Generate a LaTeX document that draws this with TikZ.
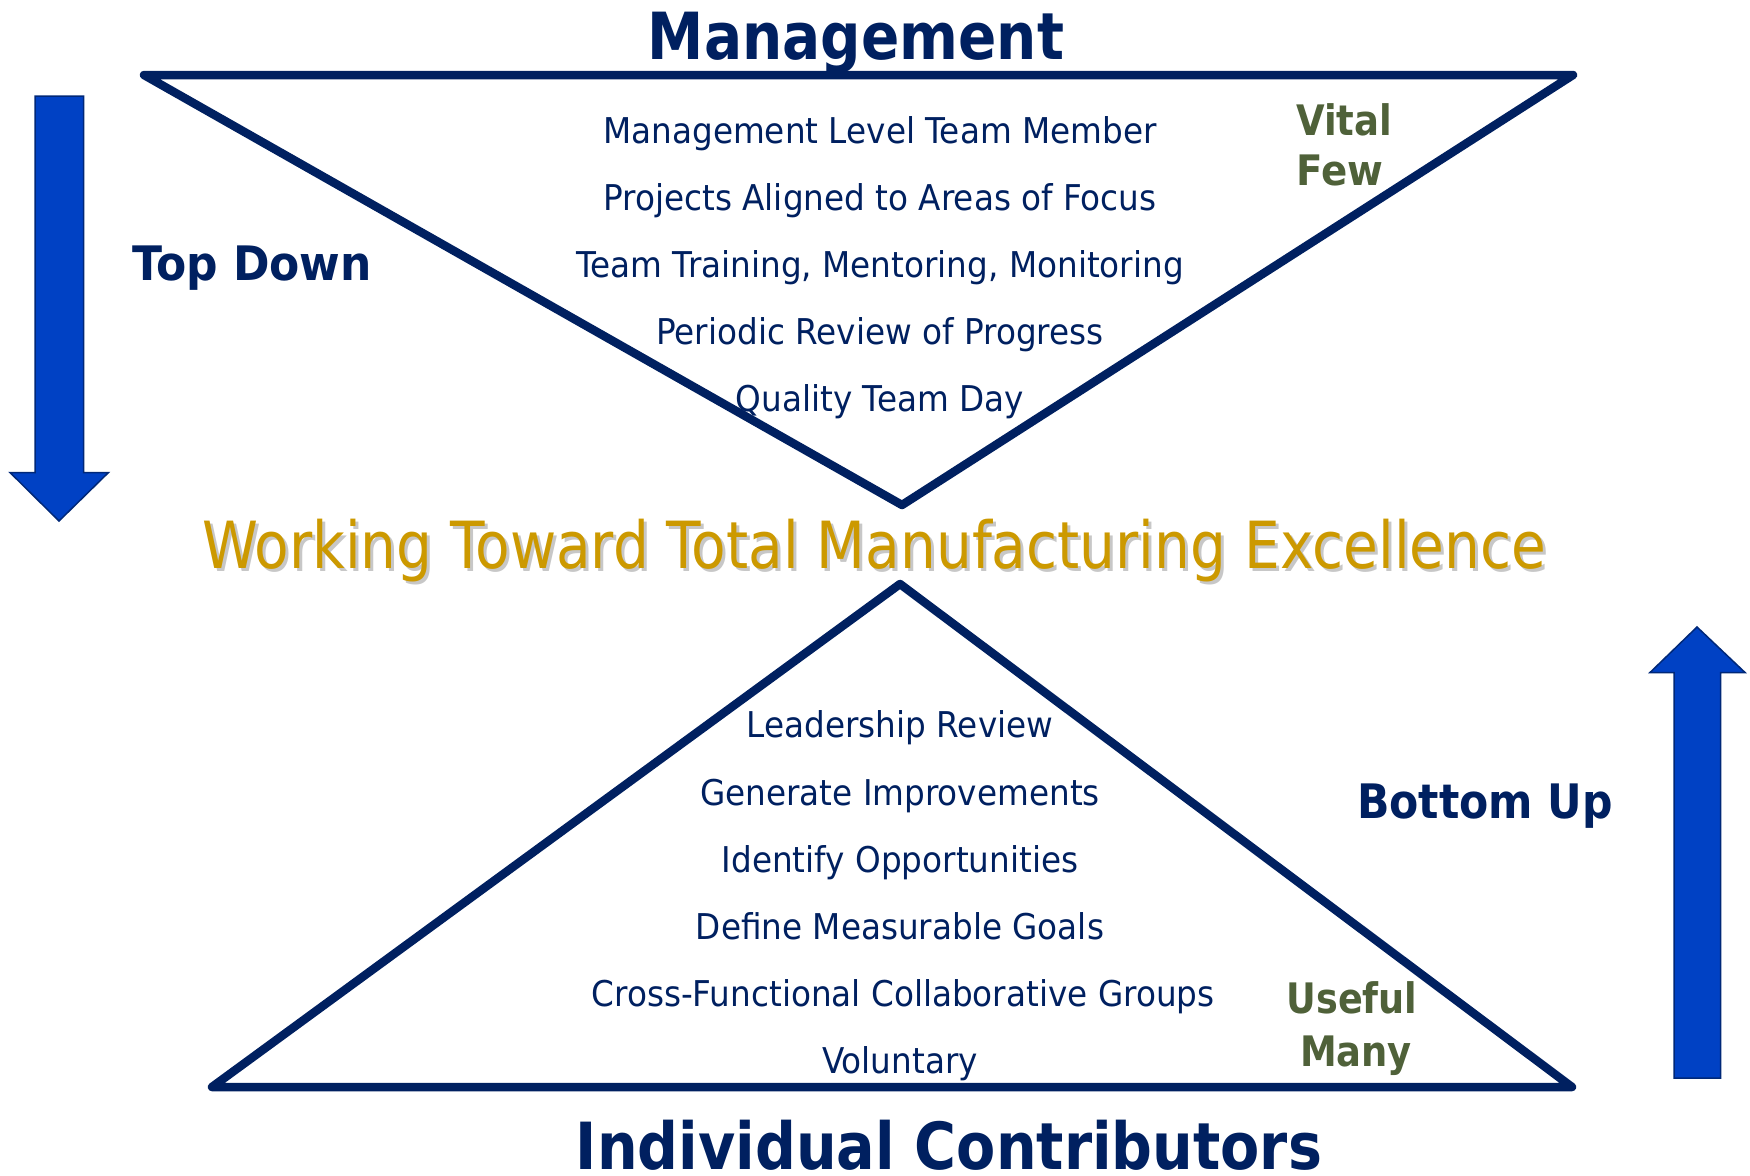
\documentclass[tikz,border=0pt]{standalone}
\usepackage{fontspec}
\setmainfont{DejaVu Sans}[FakeStretch=0.92]
\usepackage{graphicx}
\definecolor{navy}{HTML}{002060}
\definecolor{arrowblue}{HTML}{0041C4}
\definecolor{arrowedge}{HTML}{002878}
\definecolor{gold}{HTML}{CC9900}
\definecolor{olive}{HTML}{4F6139}
\newcommand\fitw[2]{\resizebox{#1}{\height}{#2}}
\tikzset{
  item/.style={anchor=base, inner sep=0pt, text=navy, font=\fontsize{35.5}{40}\selectfont},
  head/.style={anchor=base, inner sep=0pt, text=navy, font=\fontsize{65}{70}\selectfont\bfseries},
  side/.style={anchor=base, inner sep=0pt, text=navy, font=\fontsize{47.5}{52}\selectfont\bfseries},
  tag/.style={anchor=base, inner sep=0pt, text=olive, font=\fontsize{42}{46}\selectfont\bfseries},
  goal/.style={anchor=base, inner sep=0pt, text=gold, font=\fontsize{65}{70}\selectfont},
  goalshadow/.style={anchor=base, inner sep=0pt, text=black, opacity=0.22, font=\fontsize{65}{70}\selectfont},
  tri/.style={draw=navy, line width=8.5pt, line join=round, line cap=round},
  bigarrow/.style={fill=arrowblue, draw=arrowedge, line width=1.5pt, line join=miter}
}
\begin{document}
\begin{tikzpicture}[x=1pt, y=-1pt]
\useasboundingbox (0,0) rectangle (1750,1175);

% triangles
\coordinate (tl) at (144,75);
\coordinate (tr) at (1573,75);
\coordinate (tv) at (902,505);
\draw[tri] (tl) -- (tr) -- (tv) -- cycle;
\coordinate (ba) at (900,584);
\coordinate (bl) at (212,1087);
\coordinate (br) at (1572,1087);
\draw[tri] (ba) -- (br) -- (bl) -- cycle;

% arrows
\draw[bigarrow] (35,96) -- (83.5,96) -- (83.5,472.5) -- (108.5,472.5) -- (59,521) -- (10,472.5) -- (35,472.5) -- cycle;
\draw[bigarrow] (1674,1078) -- (1720.5,1078) -- (1720.5,672.5) -- (1745,672.5) -- (1697,627) -- (1650,672.5) -- (1674,672.5) -- cycle;

% headings
\node[head] (mgmt) at (856,59) {\fitw{416pt}{Management}};
\node[head] (indiv) at (949,1169) {\fitw{746pt}{Individual Contributors}};
\node[side] (topdown) at (252,280) {\fitw{240pt}{Top Down}};
\node[side] (bottomup) at (1485,818) {\fitw{256pt}{Bottom Up}};

% tags
\node[tag, anchor=base west] (vital) at (1296,135) {\fitw{96pt}{Vital}};
\node[tag, anchor=base west] (few) at (1296,185) {\fitw{87pt}{Few}};
\node[tag] (useful) at (1352,1013) {\fitw{131pt}{Useful}};
\node[tag] (many) at (1356,1066) {\fitw{112pt}{Many}};

% central goal
\node[goalshadow] (goalsh) at (877,571) {\fitw{1344pt}{Working Toward Total Manufacturing Excellence}};
\node[goal] (goal) at (874,568) {\fitw{1344pt}{Working Toward Total Manufacturing Excellence}};

% top list
\node[item] (t1) at (880,143) {Management Level Team Member};
\node[item] (t2) at (880,210) {Projects Aligned to Areas of Focus};
\node[item] (t3) at (880,277.5) {Team Training, Mentoring, Monitoring};
\node[item] (t4) at (880,344.5) {Periodic Review of Progress};
\node[item] (t5) at (880,411.5) {Quality Team Day};

% bottom list
\node[item] (b1) at (900,737.5) {Leadership Review};
\node[item] (b2) at (900,805.5) {Generate Improvements};
\node[item] (b3) at (900,872.5) {Identify Opportunities};
\node[item] (b4) at (900,939.5) {Define Measurable Goals};
\node[item] (b5) at (903,1006.5) {Cross-Functional Collaborative Groups};
\node[item] (b6) at (900,1073.5) {Voluntary};
\end{tikzpicture}
\end{document}
